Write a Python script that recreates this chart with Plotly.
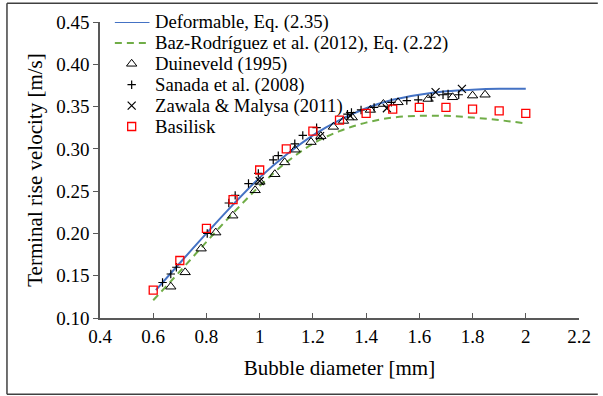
import plotly.graph_objects as go

# ---------------- data ----------------
deform_d = [0.61, 0.70, 0.80, 0.90, 1.00, 1.10, 1.20, 1.30, 1.40, 1.50, 1.60, 1.70, 1.80, 1.90, 2.00]
deform_v = [0.133, 0.165, 0.200, 0.234, 0.266, 0.293, 0.316, 0.334, 0.348, 0.358, 0.364, 0.368, 0.370, 0.371, 0.371]

baz_d = [0.60, 0.70, 0.80, 0.90, 1.00, 1.10, 1.20, 1.30, 1.40, 1.50, 1.60, 1.70, 1.80, 1.90, 2.00]
baz_v = [0.121, 0.155, 0.190, 0.224, 0.256, 0.284, 0.306, 0.321, 0.331, 0.337, 0.339, 0.339, 0.337, 0.334, 0.330]

duin_d = [0.666, 0.720, 0.780, 0.835, 0.899, 0.983, 1.001, 1.057, 1.094, 1.133, 1.193, 1.230,
          1.277, 1.315, 1.348, 1.416, 1.465, 1.520, 1.633, 1.725, 1.800, 1.847]
duin_v = [0.137, 0.154, 0.182, 0.201, 0.221, 0.251, 0.261, 0.270, 0.284, 0.299, 0.308, 0.315,
          0.326, 0.333, 0.337, 0.346, 0.353, 0.355, 0.359, 0.361, 0.363, 0.364]

sanada_d = [0.635, 0.666, 0.687, 0.803, 0.884, 0.908, 0.958, 0.995, 1.051, 1.070, 1.132, 1.162,
            1.214, 1.330, 1.345, 1.381, 1.430, 1.495, 1.553, 1.596, 1.645, 1.689, 1.708, 1.748]
sanada_v = [0.142, 0.152, 0.160, 0.200, 0.236, 0.245, 0.259, 0.271, 0.287, 0.292, 0.306, 0.316,
            0.325, 0.341, 0.343, 0.346, 0.349, 0.355, 0.357, 0.358, 0.361, 0.364, 0.365, 0.364]

zawala_d = [1.000, 1.227, 1.340, 1.478, 1.661, 1.760]
zawala_v = [0.262, 0.315, 0.339, 0.348, 0.367, 0.371]

basilisk_d = [0.6, 0.7, 0.8, 0.9, 1.0, 1.1, 1.2, 1.3, 1.4, 1.5, 1.6, 1.7, 1.8, 1.9, 2.0]
basilisk_v = [0.133, 0.168, 0.206, 0.240, 0.275, 0.300, 0.321, 0.334, 0.342, 0.347, 0.349, 0.349, 0.347, 0.345, 0.342]

x_ticks = [0.4, 0.6, 0.8, 1.0, 1.2, 1.4, 1.6, 1.8, 2.0, 2.2]
x_ticktext = ["0.4", "0.6", "0.8", "1", "1.2", "1.4", "1.6", "1.8", "2", "2.2"]
y_ticks = [0.10, 0.15, 0.20, 0.25, 0.30, 0.35, 0.40, 0.45]
y_ticktext = ["0.10", "0.15", "0.20", "0.25", "0.30", "0.35", "0.40", "0.45"]

legend_labels = ["Deformable, Eq. (2.35)", "Baz-Rodríguez et al. (2012), Eq. (2.22)",
                 "Duineveld (1995)", "Sanada et al. (2008)", "Zawala & Malysa (2011)", "Basilisk"]

# ---------------- styling ----------------
W, H = 603, 396
PL, PR, PT, PB = 100, 584, 21.7, 317.7   # plot-area pixel box
FONT = "Liberation Serif"
BLUE = "#4472C4"
GREEN = "#70AD47"
RED = "#FF0000"
AX = "#595959"

def xpap(px):
    return (px - PL) / (PR - PL)

def ypap(py):
    return (PB - py) / (PB - PT)

line_styles = [
    dict(kind="line", line=dict(color=BLUE, width=2)),
    dict(kind="line", line=dict(color=GREEN, width=2, dash="7px,5px")),
    dict(kind="marker", marker=dict(symbol="triangle-up-open", size=9, color="black", line=dict(width=1, color="black"))),
    dict(kind="marker", marker=dict(symbol="cross-thin-open", size=6, color="black", line=dict(width=1.2, color="black"))),
    dict(kind="marker", marker=dict(symbol="x-thin-open", size=8, color="black", line=dict(width=1.2, color="black"))),
    dict(kind="marker", marker=dict(symbol="square-open", size=8, color=RED, line=dict(width=1.3, color=RED))),
]

fig = go.Figure()

fig.add_trace(go.Scatter(x=deform_d, y=deform_v, mode="lines", line=line_styles[0]["line"],
                         line_shape="spline", name=legend_labels[0]))
fig.add_trace(go.Scatter(x=baz_d, y=baz_v, mode="lines", line=line_styles[1]["line"],
                         line_shape="spline", name=legend_labels[1]))
fig.add_trace(go.Scatter(x=duin_d, y=duin_v, mode="markers", marker=line_styles[2]["marker"], name=legend_labels[2]))
fig.add_trace(go.Scatter(x=sanada_d, y=sanada_v, mode="markers", marker=line_styles[3]["marker"], name=legend_labels[3]))
fig.add_trace(go.Scatter(x=zawala_d, y=zawala_v, mode="markers", marker=line_styles[4]["marker"], name=legend_labels[4]))
fig.add_trace(go.Scatter(x=basilisk_d, y=basilisk_v, mode="markers", marker=line_styles[5]["marker"], name=legend_labels[5]))

# ---------------- custom legend (tight row spacing like the original) ----------------
row0, row_gap = 21.7, 20.9
sym_l, sym_r, sym_c, text_x = 115, 150, 132, 154
annotations = []
for i, (lab, st) in enumerate(zip(legend_labels, line_styles)):
    yy = ypap(row0 + i * row_gap)
    if st["kind"] == "line":
        fig.add_trace(go.Scatter(x=[xpap(sym_l), xpap(sym_r)], y=[yy, yy], mode="lines",
                                 line=st["line"], xaxis="x2", yaxis="y2", hoverinfo="skip"))
    else:
        fig.add_trace(go.Scatter(x=[xpap(sym_c)], y=[yy], mode="markers", marker=st["marker"],
                                 xaxis="x2", yaxis="y2", hoverinfo="skip"))
    annotations.append(dict(x=xpap(text_x), y=yy, xref="paper", yref="paper", text=lab,
                            showarrow=False, xanchor="left", yanchor="middle",
                            font=dict(family=FONT, size=18.7, color="black")))

frame = dict(color="#404040", width=1.5)
fx0, fx1, fy0, fy1 = xpap(6), xpap(603), ypap(394), ypap(3)
shapes = [
    dict(type="line", xref="paper", yref="paper", x0=fx0, x1=fx1, y0=fy1, y1=fy1, line=frame, layer="below"),
    dict(type="line", xref="paper", yref="paper", x0=fx0, x1=fx1, y0=fy0, y1=fy0, line=frame, layer="below"),
    dict(type="line", xref="paper", yref="paper", x0=fx0, x1=fx0, y0=fy0, y1=fy1, line=frame, layer="below"),
]

fig.update_layout(
    width=W, height=H,
    margin=dict(l=PL, r=W - PR, t=PT, b=H - PB, pad=0),
    paper_bgcolor="white", plot_bgcolor="white",
    showlegend=False,
    font=dict(family=FONT, size=19, color="black"),
    annotations=annotations,
    shapes=shapes,
    xaxis=dict(range=[0.4, 2.2], tickvals=x_ticks, ticktext=x_ticktext,
               showgrid=False, zeroline=False, showline=True, linecolor=AX, linewidth=1.5,
               ticks="inside", ticklen=5, tickwidth=1.2, tickcolor=AX,
               tickfont=dict(family=FONT, size=19, color="black"),
               title=dict(text="Bubble diameter [mm]", font=dict(family=FONT, size=21, color="black"), standoff=15)),
    yaxis=dict(range=[0.10, 0.45], tickvals=y_ticks, ticktext=y_ticktext,
               showgrid=False, zeroline=False, showline=True, linecolor=AX, linewidth=1.5,
               ticks="outside", ticklen=5, tickwidth=1.2, tickcolor=AX,
               tickfont=dict(family=FONT, size=19, color="black"),
               title=dict(text="Terminal rise velocity [m/s]", font=dict(family=FONT, size=21, color="black"), standoff=8)),
    xaxis2=dict(overlaying="x", range=[0, 1], visible=False),
    yaxis2=dict(overlaying="y", range=[0, 1], visible=False),
)

fig.write_html("out.html")
